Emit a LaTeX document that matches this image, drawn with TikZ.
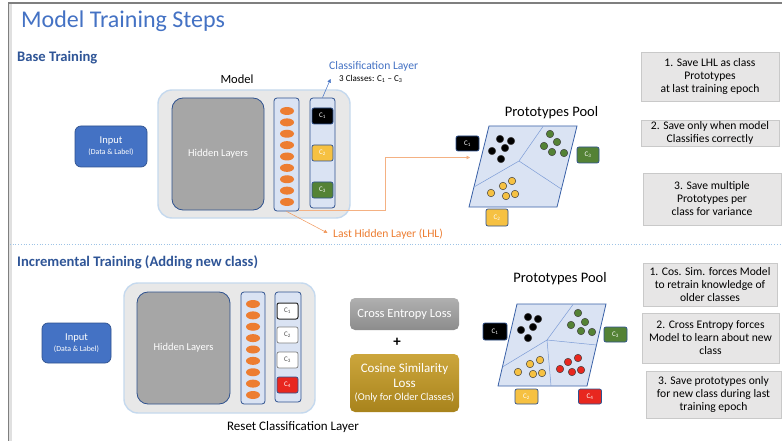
\documentclass[tikz,border=0pt]{standalone}
\usepackage{fontspec}
\setmainfont{Carlito}
\usetikzlibrary{arrows.meta,shapes.geometric}
\definecolor{tblue}{HTML}{4472C4}
\definecolor{dblue}{HTML}{2F5597}
\definecolor{bord}{HTML}{2F528F}
\definecolor{lblue}{HTML}{DAE3F3}
\definecolor{cgray}{HTML}{E8E8E8}
\definecolor{cbord}{HTML}{C5D9EE}
\definecolor{hgray}{HTML}{A6A6A6}
\definecolor{orng}{HTML}{ED7D31}
\definecolor{lorng}{HTML}{F4B183}
\definecolor{cyel}{HTML}{F6C142}
\definecolor{cgreen}{HTML}{548235}
\definecolor{cred}{HTML}{E8271F}
\definecolor{goldA}{HTML}{CCA63C}
\definecolor{goldB}{HTML}{A8831C}
\definecolor{grayA}{HTML}{B0B0B0}
\definecolor{grayB}{HTML}{8C8C8C}
\definecolor{boxgray}{HTML}{E7E6E6}
\definecolor{boxbord}{HTML}{C9C9C9}
\definecolor{framec}{HTML}{7F7F7F}
\definecolor{sepc}{HTML}{9DC3E6}
\tikzset{
  heading/.style={font=\fontsize{14.6}{16}\selectfont\bfseries, text=dblue, anchor=base west, inner sep=0pt},
  plain/.style={font=\fontsize{12.5}{14}\selectfont, inner sep=0pt},
  inputbox/.style={draw=bord, fill=tblue, text=white, rounded corners=6pt, line width=0.7pt, align=center, font=\fontsize{10.5}{12}\selectfont, inner sep=0pt},
  container/.style={draw=cbord, fill=cgray, rounded corners=14pt, line width=1.4pt, inner sep=0pt},
  hidden/.style={draw=bord, fill=hgray, rounded corners=11pt, line width=0.8pt, text=white, font=\fontsize{10.5}{12}\selectfont, inner sep=0pt},
  column/.style={draw=bord, fill=lblue, rounded corners=3pt, line width=0.8pt, inner sep=0pt},
  neuron/.style={ellipse, fill=orng, draw=none, minimum width=14pt, minimum height=8pt, inner sep=0pt},
  clab/.style={rounded corners=2pt, draw=bord, line width=0.7pt, inner sep=0pt, font=\fontsize{7}{8}\selectfont},
  pool/.style={draw=tblue!85!black, fill=lblue, line width=0.8pt},
  poolline/.style={draw=tblue!70, line width=0.5pt},
  dot/.style={circle, minimum size=7.5pt, inner sep=0pt, draw=black!75, line width=0.5pt},
  pooltitle/.style={font=\fontsize{14.5}{16}\selectfont, inner sep=0pt},
  rbox/.style={draw=boxbord, fill=boxgray, line width=0.6pt, align=center, font=\fontsize{11.6}{13}\selectfont, inner sep=0pt},
  lossbox/.style={rounded corners=5pt, text=white, align=center, inner sep=0pt, draw=none},
  tip/.style={-{Triangle[width=3.5pt,length=3.5pt]}}
}
\begin{document}
\begin{tikzpicture}[x=1pt,y=-1pt]
\useasboundingbox (0,0) rectangle (782,441);
\fill[white] (0,0) rectangle (782,441);
% frame
\fill[black!12] (9,3) rectangle (11.5,441);
\draw[framec, line width=1.3pt] (8.5,441) -- (8.5,3) -- (782,3);
\draw[sepc, dotted, line width=0.7pt] (10,244.5) -- (782,244.5);

% titles
\node[font=\fontsize{24}{28}\selectfont, text=tblue, anchor=base west, inner sep=0pt] (title) at (21,28) {Model Training Steps};
\node[heading] (base) at (17,62) {Base Training};
\node[heading] (incr) at (17,266) {Incremental Training (Adding new class)};

% ================= BASE =================
\node[inputbox, minimum width=72pt, minimum height=41pt] (inA) at (111,146.5) {Input\\[-1pt]{\fontsize{7.8}{9}\selectfont (Data \& Label)}};
\node[plain] (modelA) at (237,79) {Model};
\node[container, minimum width=192pt, minimum height=128pt] (contA) at (254,154) {};
\node[hidden, minimum width=92pt, minimum height=112pt] (hidA) at (218,154) {Hidden Layers};
\node[column, minimum width=25pt, minimum height=113pt] (lhlA) at (286.5,154.5) {};
\foreach \i in {0,...,8} \node[neuron] (nA\i) at (287,{111+\i*11.375}) {};
\node[column, minimum width=25pt, minimum height=110pt] (clsA) at (322.5,153) {};
\node[clab, fill=black, text=white, minimum width=21pt, minimum height=16pt] (a1) at (322.5,116) {C\textsubscript{1}};
\node[clab, fill=cyel, text=white, minimum width=21pt, minimum height=16pt] (a2) at (322.5,153) {C\textsubscript{2}};
\node[clab, fill=cgreen, text=white, minimum width=21pt, minimum height=16pt] (a3) at (322.5,190) {C\textsubscript{3}};

\node[font=\fontsize{11.6}{13}\selectfont, text=tblue, anchor=base west, inner sep=0pt] (clsTitle) at (329,70) {Classification Layer};
\node[font=\fontsize{9}{10}\selectfont, anchor=base west, inner sep=0pt] (clsSub) at (339,81.5) {3 Classes: C\textsubscript{1} – C\textsubscript{3}};
\coordinate (clsTip) at (330.5,79);
\draw[tblue, line width=0.5pt, tip] (clsA.north) -- (clsTip);

\node[font=\fontsize{11.6}{13}\selectfont, text=orng, anchor=west, inner sep=0pt] (lhlLab) at (333,234) {Last Hidden Layer (LHL)};
\coordinate (lhlTip) at (327.5,233);
\draw[orng!80, line width=0.5pt, tip] (lhlA.south) -- (lhlTip);

% pool A
\coordinate (pA1) at (489,126); \coordinate (pA2) at (577,126);
\coordinate (pA3) at (557,207); \coordinate (pA4) at (469,207);
\coordinate (pAc) at (519,161);
\draw[pool] (pA1) -- (pA2) -- (pA3) -- (pA4) -- cycle;
\draw[poolline] (pAc) -- (543,126.5) (pAc) -- (561.3,189) (pAc) -- (474,187);
\node[pooltitle] (poolA) at (551.5,112.5) {Prototypes Pool};
\foreach \p in {(500,139),(511,141),(505,148),(492,151),(501,159)} \node[dot, fill=black] at \p {};
\foreach \p in {(550,134),(557,142),(544,146),(552,152),(564,153)} \node[dot, fill=cgreen] at \p {};
\foreach \p in {(512,181),(503,186),(491,193),(506,196),(515,194)} \node[dot, fill=cyel] at \p {};
\node[clab, fill=black, text=white, minimum width=23pt, minimum height=15pt] (pa1) at (467.5,143.5) {C\textsubscript{1}};
\node[clab, fill=cgreen, text=white, minimum width=22pt, minimum height=16pt] (pa3) at (588,155) {C\textsubscript{3}};
\node[clab, fill=cyel, text=white, minimum width=22pt, minimum height=17pt] (pa2) at (497,217.5) {C\textsubscript{2}};

\coordinate (poolIn) at (470,157.5);
\draw[lorng, line width=0.6pt, tip] (lhlA.south east) ++(0,-1) -| (385,157.5) -- (poolIn);

% right boxes A
\node[rbox, minimum width=138pt, minimum height=49pt] (rA1) at (710,76.5) {1. Save LHL as class\\Prototypes\\at last training epoch};
\node[rbox, minimum width=138pt, minimum height=26pt] (rA2) at (710,133) {2. Save only when model\\Classifies correctly};
\node[rbox, minimum width=138pt, minimum height=52pt] (rA3) at (712,199) {3. Save multiple\\Prototypes per\\class for variance};

% ================= INCREMENTAL =================
\node[inputbox, minimum width=69pt, minimum height=40pt] (inB) at (76.5,343) {Input\\[-1pt]{\fontsize{7.8}{9}\selectfont (Data \& Label)}};
\node[container, minimum width=191pt, minimum height=130pt] (contB) at (219.5,348) {};
\node[hidden, minimum width=93pt, minimum height=112pt] (hidB) at (183.5,348) {Hidden Layers};
\node[column, minimum width=24pt, minimum height=112pt] (lhlB) at (253,348) {};
\foreach \i in {0,...,8} \node[neuron] (nB\i) at (253,{304+\i*11.375}) {};
\node[column, minimum width=26pt, minimum height=110pt] (clsB) at (288,347) {};
\node[clab, fill=white, draw=black!85, line width=1pt, text=black!70, minimum width=21pt, minimum height=16pt] (b1) at (287.5,311) {C\textsubscript{1}};
\node[clab, fill=white, draw=black!50, text=black!70, minimum width=21pt, minimum height=16pt] (b2) at (287.5,335) {C\textsubscript{2}};
\node[clab, fill=white, draw=black!50, text=black!70, minimum width=21pt, minimum height=16pt] (b3) at (287.5,360) {C\textsubscript{3}};
\node[clab, fill=cred, draw=bord, text=white, minimum width=21pt, minimum height=16pt] (b4) at (287.5,385) {C\textsubscript{4}};
\node[font=\fontsize{13}{15}\selectfont, inner sep=0pt] (reset) at (293,427) {Reset Classification Layer};

% losses
\node[lossbox, top color=grayA, bottom color=grayB, minimum width=109pt, minimum height=32pt, font=\fontsize{12.5}{14}\selectfont] (ce) at (404.5,314) {Cross Entropy Loss};
\node[font=\fontsize{15}{15}\selectfont\bfseries, inner sep=0pt] (plus) at (397,342) {+};
\node[lossbox, top color=goldA, bottom color=goldB, minimum width=109pt, minimum height=58pt, font=\fontsize{13}{14.5}\selectfont] (cs) at (404.5,383) {Cosine Similarity\\Loss\\[-1pt]{\fontsize{10.5}{12}\selectfont (Only for Older Classes)}};

% pool B
\coordinate (pB1) at (517,304); \coordinate (pB2) at (606,304);
\coordinate (pB3) at (587,386); \coordinate (pB4) at (498,386);
\coordinate (pBc) at (547,340);
\draw[pool] (pB1) -- (pB2) -- (pB3) -- (pB4) -- cycle;
\draw[poolline] (pBc) -- (573,304.5) (pBc) -- (502.4,367) (pBc) -- (596.5,345) (pBc) -- (551,385.5);
\node[pooltitle] (poolB) at (560,278.5) {Prototypes Pool};
\foreach \p in {(528,317),(538,319),(521,330),(533,327),(528,338)} \node[dot, fill=black] at \p {};
\foreach \p in {(578,313),(585,322),(571,325),(581,331),(592,332)} \node[dot, fill=cgreen] at \p {};
\foreach \p in {(540,360),(530,364),(518,372),(533,374),(542,373)} \node[dot, fill=cyel] at \p {};
\foreach \p in {(578,358),(568,362),(560,369),(572,372),(581,370)} \node[dot, fill=cred] at \p {};
\node[clab, fill=black, text=white, minimum width=24pt, minimum height=17pt] (pb1) at (495,331.5) {C\textsubscript{1}};
\node[clab, fill=cgreen, text=white, minimum width=23pt, minimum height=15pt] (pb3) at (615.5,334.5) {C\textsubscript{3}};
\node[clab, fill=cyel, text=white, minimum width=23pt, minimum height=15pt] (pb2) at (526.5,396.5) {C\textsubscript{2}};
\node[clab, fill=cred, text=white, minimum width=23pt, minimum height=15pt] (pb4) at (590,396.5) {C\textsubscript{4}};

% right boxes B
\node[rbox, minimum width=134pt, minimum height=43pt] (rB1) at (710,284.5) {1. Cos. Sim. forces Model\\to retrain knowledge of\\older classes};
\node[rbox, minimum width=137pt, minimum height=50pt] (rB2) at (710.5,338) {2. Cross Entropy forces\\Model to learn about new\\class};
\node[rbox, minimum width=135pt, minimum height=47pt] (rB3) at (713.5,394.5) {3. Save prototypes only\\for new class during last\\training epoch};
\end{tikzpicture}
\end{document}
